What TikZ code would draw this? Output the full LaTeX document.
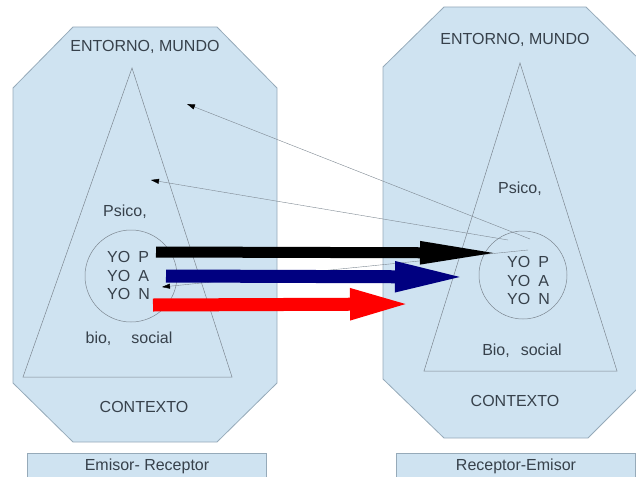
\documentclass[tikz,border=0pt]{standalone}
\usepackage{fontspec}
\setmainfont{Liberation Sans}
\usepackage{tikz}
\usetikzlibrary{matrix, positioning, arrows.meta}
\usepackage{xcolor}
\definecolor{fondo}{RGB}{207,227,241}
\definecolor{borde}{RGB}{150,170,185}
\definecolor{linea}{RGB}{125,135,145}
\definecolor{texto}{RGB}{55,65,75}
\definecolor{azul}{RGB}{0,0,128}

\begin{document}
\begin{tikzpicture}[x=1pt, y=-1pt,
		font=\fontsize{16}{19}\selectfont, text=texto,
		marco/.style={fill=fondo, draw=borde, line width=0.8pt},
		piramide/.style={draw=linea, line width=0.5pt},
		yo/.style={matrix of nodes, inner sep=0pt, anchor=north west,
			column sep=8pt, row sep=7pt,
			nodes={inner sep=0pt, anchor=west, text height=11.5pt, text depth=0pt}},
		caja/.style={fill=fondo, draw=borde, line width=0.8pt, minimum width=239pt,
			minimum height=24pt, text height=11.5pt, text depth=0pt},
		retorno/.style={draw=linea, line width=0.4pt, -{Triangle[length=8pt, width=5pt, color=black]}},
		grueso/.style={line width=#1}]
		\useasboundingbox (0,0) rectangle (636,476);
		
		\draw[marco] (73,27) -- (217,27) -- (277,88) -- (277,383) -- (217,442) -- (73,442) -- (13,383) -- (13,88) -- cycle;
		\draw[marco] (444,7) -- (586,7) -- (647,67) -- (647,379) -- (588,438) -- (444,438) -- (383,379) -- (383,67) -- cycle;
		\draw[piramide] (132,68) -- (232,377) -- (23,377) -- cycle;
		\draw[piramide] (520,63) -- (617,371) -- (424,371) -- cycle;
		\draw[piramide] (131,276) circle[radius=46pt];
		\draw[piramide] (523,275) circle[radius=44pt];
		
		\node[anchor=base] (entornoE) at (145,52) {ENTORNO, MUNDO};
		\node[anchor=base] (entornoR) at (515,45) {ENTORNO, MUNDO};
		\node[anchor=base] (psicoE) at (125,216) {Psico,};
		\node[anchor=base] (psicoR) at (520,193) {Psico,};
		\node[anchor=base] (bioE) at (129,343) {bio,\hspace{20pt}social};
		\node[anchor=base] (bioR) at (522,355) {Bio,\hspace{11pt}social};
		\node[anchor=base] (contextoE) at (144,412) {CONTEXTO};
		\node[anchor=base] (contextoR) at (515,406) {CONTEXTO};
		
		\matrix (yoE) [yo] at (107,251) {
			YO & P \\
			YO & A \\
			YO & N \\
		};
		\matrix (yoR) [yo] at (507,256) {
			YO & P \\
			YO & A \\
			YO & N \\
		};
		
		\node[caja] (emisor) at (147,465) {Emisor- Receptor};
		\node[caja] (receptor) at (516,465) {Receptor-Emisor};
		
		\coordinate (vueltaA) at (187,104);
		\coordinate (vueltaB) at (151,180);
		\coordinate (vueltaC) at (162,287);
		\coordinate (salidaA) at (530,239);
		\coordinate (salidaB) at (508,240);
		\coordinate (salidaC) at (528,250);
		\draw[retorno] (salidaA) -- (vueltaA);
		\draw[retorno] (salidaB) -- (vueltaB);
		\draw[retorno] (salidaC) -- (vueltaC);
		
		\coordinate (pIni) at (156,252);
		\coordinate (pFin) at (507,253);
		\coordinate (aIni) at (166,276);
		\coordinate (aFin) at (468,277);
		\coordinate (nIni) at (153,305);
		\coordinate (nFin) at (412,304);
		\draw[grueso=11pt, black, -{Triangle[length=87pt, width=20pt]}] (pIni) -- (pFin);
		\draw[grueso=13pt, azul, -{Triangle[length=73pt, width=27pt]}] (aIni) -- (aFin);
		\draw[grueso=13pt, red, -{Triangle[length=62pt, width=28pt]}] (nIni) -- (nFin);
	\end{tikzpicture}
\end{document}
